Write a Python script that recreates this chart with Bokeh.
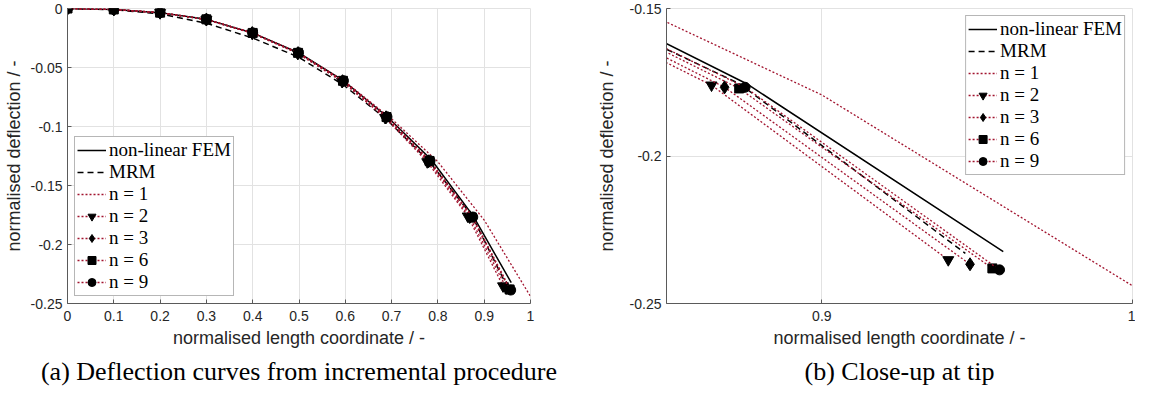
from bokeh.plotting import figure
from bokeh.models import Range1d, FixedTicker, Legend, LegendItem
from bokeh.layouts import row
from bokeh.embed import file_html
from bokeh.resources import INLINE

# ---------------- data ----------------
fem_x = [0, 0.1, 0.2, 0.3, 0.4, 0.499, 0.596, 0.690, 0.786, 0.8758, 0.9584]
fem_y = [0, -0.0008, -0.0035, -0.0092, -0.0207, -0.0375, -0.0612, -0.0915, -0.1282, -0.1755, -0.2324]

mrm_x = [0, 0.1, 0.2, 0.3, 0.4, 0.499, 0.596, 0.689, 0.781, 0.8735, 0.9462]
mrm_y = [0, -0.0010, -0.0045, -0.0125, -0.0250, -0.0412, -0.0648, -0.0940, -0.1295, -0.1755, -0.2330]

n1_x = [0, 0.1, 0.2, 0.3, 0.4, 0.5, 0.6, 0.7, 0.8, 0.9, 1.0]
n1_y = [0, -0.0008, -0.0036, -0.0094, -0.0210, -0.0382, -0.0622, -0.0935, -0.1299, -0.1793, -0.2440]

n2_x = [0, 0.1, 0.2, 0.3, 0.399, 0.497, 0.593, 0.686, 0.777, 0.8645, 0.9407]
n2_y = [0, -0.0008, -0.0036, -0.0094, -0.0210, -0.0380, -0.0620, -0.0925, -0.1300, -0.1760, -0.2352]

n3_x = [0, 0.1, 0.2, 0.3, 0.399, 0.498, 0.594, 0.688, 0.780, 0.8687, 0.9477]
n3_y = [0, -0.0008, -0.0035, -0.0093, -0.0208, -0.0378, -0.0616, -0.0922, -0.1295, -0.1767, -0.2367]

n6_x = [0, 0.1, 0.2, 0.3, 0.4, 0.498, 0.595, 0.689, 0.782, 0.8734, 0.9549]
n6_y = [0, -0.0008, -0.0035, -0.0092, -0.0207, -0.0376, -0.0613, -0.0920, -0.1292, -0.1771, -0.2381]

n9_x = [0, 0.1, 0.2, 0.3, 0.4, 0.499, 0.596, 0.690, 0.783, 0.8753, 0.9572]
n9_y = [0, -0.0008, -0.0035, -0.0092, -0.0207, -0.0375, -0.0612, -0.0918, -0.1290, -0.1767, -0.2386]

labels = ["non-linear FEM", "MRM", "n = 1", "n = 2", "n = 3", "n = 6", "n = 9"]

left_xticks = [0, 0.1, 0.2, 0.3, 0.4, 0.5, 0.6, 0.7, 0.8, 0.9, 1.0]
left_xlabels = ["0", "0.1", "0.2", "0.3", "0.4", "0.5", "0.6", "0.7", "0.8", "0.9", "1"]
left_yticks = [-0.25, -0.2, -0.15, -0.1, -0.05, 0]
left_ylabels = ["-0.25", "-0.2", "-0.15", "-0.1", "-0.05", "0"]

right_xticks = [0.9, 1.0]
right_xlabels = ["0.9", "1"]
right_yticks = [-0.25, -0.2, -0.15]
right_ylabels = ["-0.25", "-0.2", "-0.15"]

caption_a = "(a) Deflection curves from incremental procedure"
caption_b = "(b) Close-up at tip"
xlabel = "normalised length coordinate / -"
ylabel = "normalised deflection / -"

RED = "#A2142F"
AXC = "#262626"
GRID = "#e2e2e2"
SANS = "Liberation Sans"
SERIF = "Liberation Serif"


def make(width, mbl, mbr, xr, yr, xt, xl, yt, yl, caption, legend_loc, ylab_standoff):
    p = figure(width=width, height=389, x_range=Range1d(*xr), y_range=Range1d(*yr),
               output_backend="svg", toolbar_location=None,
               min_border_left=mbl, min_border_right=mbr,
               min_border_top=8, min_border_bottom=85,
               title_location="below")
    p.title.text = caption
    p.title.text_font = SERIF
    p.title.text_font_size = "26px"
    p.title.text_font_style = "normal"
    p.title.text_color = "black"
    p.title.align = "center"
    p.title.standoff = 8

    p.xaxis.ticker = FixedTicker(ticks=xt)
    p.xaxis.major_label_overrides = {t: s for t, s in zip(xt, xl)}
    p.yaxis.ticker = FixedTicker(ticks=yt)
    p.yaxis.major_label_overrides = {t: s for t, s in zip(yt, yl)}
    p.xaxis.axis_label = xlabel
    p.yaxis.axis_label = ylabel
    for ax in (p.xaxis, p.yaxis):
        ax.axis_label_text_font = SANS
        ax.axis_label_text_font_size = "18px"
        ax.axis_label_text_font_style = "normal"
        ax.axis_label_text_color = AXC
        ax.major_label_text_font = SANS
        ax.major_label_text_font_size = "14px"
        ax.major_label_text_color = AXC
        ax.axis_line_color = "#5a5a5a"
        ax.major_tick_line_color = "#5a5a5a"
        ax.major_tick_in = 4
        ax.major_tick_out = 0
        ax.minor_tick_line_color = None
    p.xaxis.major_label_standoff = 7
    p.yaxis.major_label_standoff = 5
    p.xaxis.axis_label_standoff = 4
    p.yaxis.axis_label_standoff = ylab_standoff
    p.xgrid.grid_line_color = GRID
    p.ygrid.grid_line_color = GRID
    p.outline_line_color = GRID
    p.background_fill_color = "white"

    r_fem = p.line(fem_x, fem_y, line_color="black", line_width=1.5)
    r_mrm = p.line(mrm_x, mrm_y, line_color="black", line_width=1.5, line_dash="6 4")
    r_n1 = p.line(n1_x, n1_y, line_color=RED, line_width=1.3, line_dash="2 2")
    items = [LegendItem(label=labels[0], renderers=[r_fem]),
             LegendItem(label=labels[1], renderers=[r_mrm]),
             LegendItem(label=labels[2], renderers=[r_n1])]
    series = [(n2_x, n2_y, "inverted_triangle", 11),
              (n3_x, n3_y, "diamond", 13),
              (n6_x, n6_y, "square", 9),
              (n9_x, n9_y, "circle", 10)]
    for (xs, ys, mk, sz), lab in zip(series, labels[3:]):
        rl = p.line(xs, ys, line_color=RED, line_width=1.3, line_dash="2 2")
        rs = p.scatter(xs, ys, marker=mk, size=sz, fill_color="black", line_color="black")
        items.append(LegendItem(label=lab, renderers=[rl, rs]))

    leg = Legend(items=items, location=legend_loc, margin=7)
    leg.label_text_font = SERIF
    leg.label_text_font_size = "19px"
    leg.label_text_color = "black"
    leg.label_height = 20
    leg.glyph_height = 20
    leg.glyph_width = 29
    leg.label_standoff = 3
    leg.spacing = 0
    leg.padding = 2
    leg.border_line_color = "#6e6e6e"
    leg.border_line_width = 1
    leg.background_fill_color = "white"
    leg.background_fill_alpha = 1.0
    p.add_layout(leg)
    return p


pa = make(585, 62, 55, (0, 1), (-0.25, 0), left_xticks, left_xlabels,
          left_yticks, left_ylabels, caption_a, "bottom_left", 4)
pb = make(550, 81, 3, (0.85, 1), (-0.25, -0.15), right_xticks, right_xlabels,
          right_yticks, right_ylabels, caption_b, "top_right", 10)

layout = row(pa, pb)
open("out.html", "w").write(file_html(layout, INLINE))
